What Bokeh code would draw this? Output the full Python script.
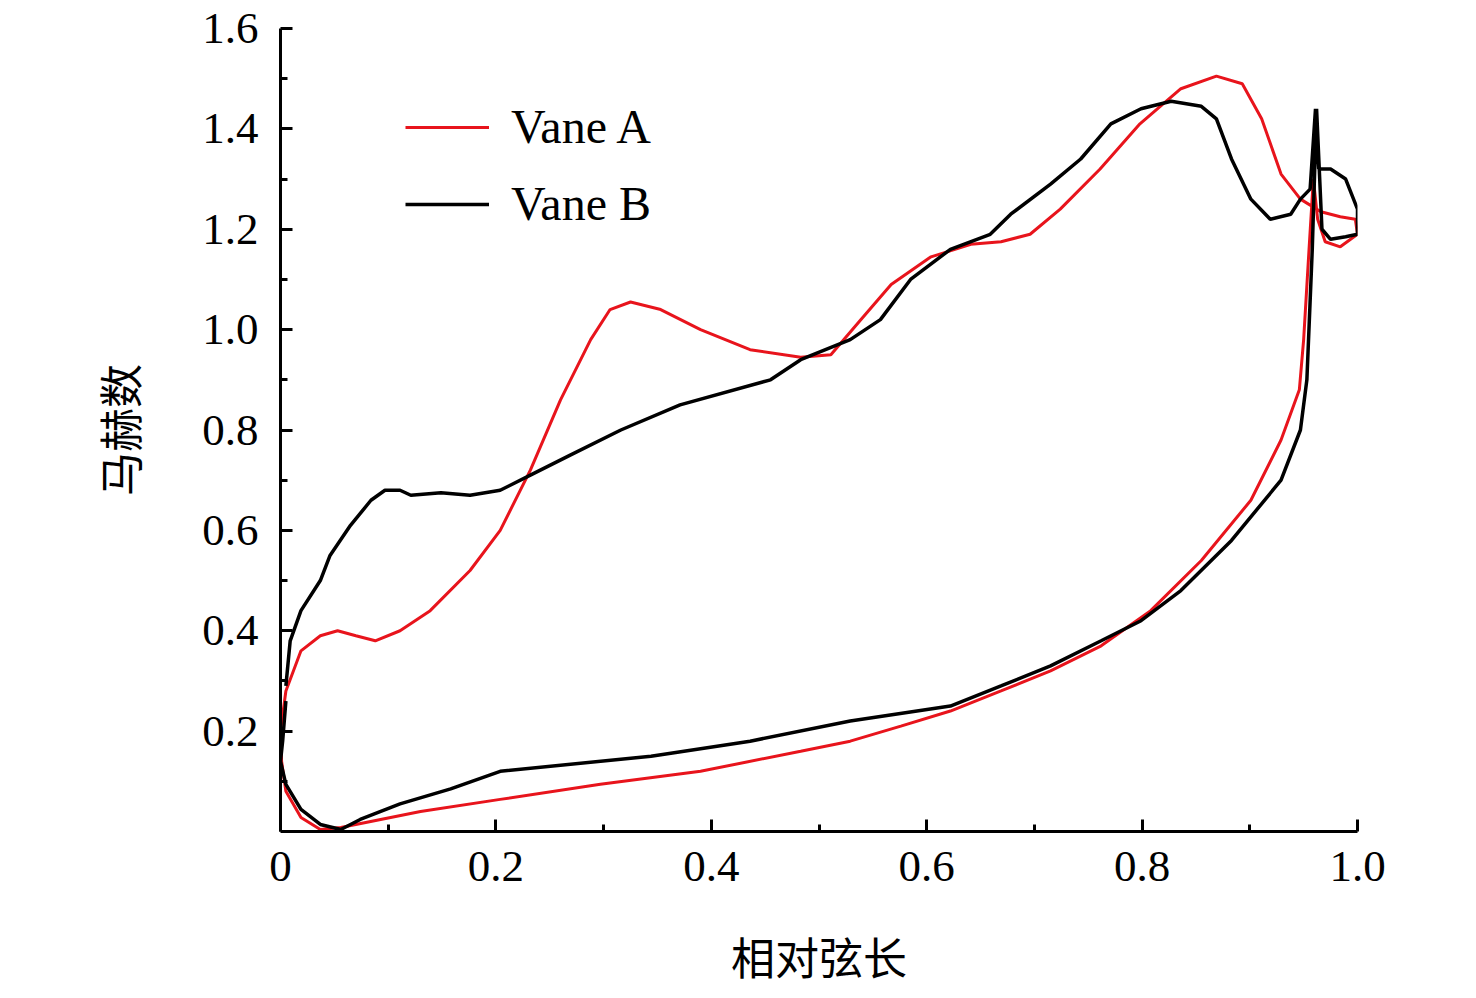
from bokeh.plotting import figure
from bokeh.models import FixedTicker, Legend, LegendItem
from bokeh.embed import file_html
from bokeh.resources import INLINE

a_x = [0,0.005,0.019,0.037,0.053,0.070,0.088,0.111,0.139,0.176,0.204,0.232,0.260,0.288,0.306,0.325,0.353,0.390,0.436,0.483,0.511,0.539,0.567,0.604,0.641,0.669,0.696,0.724,0.761,0.798,0.836,0.869,0.893,0.911,0.929,0.947,0.966,0.984,0.998,1.0,0.984,0.970,0.963,0.959,0.955,0.950,0.946,0.929,0.901,0.855,0.808,0.762,0.715,0.669,0.622,0.576,0.529,0.483,0.390,0.297,0.204,0.130,0.093,0.056,0.037,0.019,0.005,0.001,0]
a_y = [0.2,0.28,0.36,0.39,0.40,0.39,0.38,0.40,0.44,0.52,0.60,0.72,0.86,0.98,1.04,1.055,1.04,1.0,0.96,0.945,0.95,1.02,1.09,1.145,1.17,1.175,1.19,1.24,1.32,1.41,1.48,1.505,1.49,1.42,1.31,1.26,1.235,1.225,1.22,1.19,1.165,1.175,1.22,1.30,1.16,0.98,0.88,0.78,0.66,0.54,0.44,0.37,0.32,0.28,0.24,0.21,0.18,0.16,0.12,0.094,0.064,0.04,0.024,0.008,0.004,0.028,0.08,0.14,0.2]
b_x = [0.005,0.009,0.019,0.037,0.046,0.065,0.084,0.097,0.111,0.121,0.149,0.176,0.204,0.232,0.269,0.316,0.371,0.455,0.483,0.529,0.557,0.585,0.622,0.659,0.678,0.715,0.743,0.771,0.799,0.827,0.855,0.869,0.883,0.901,0.919,0.938,0.947,0.956,0.961,0.964,0.975,0.989,1.0,1.0,0.989,0.975,0.967,0.962,0.958,0.953,0.947,0.929,0.883,0.836,0.799,0.762,0.715,0.669,0.622,0.529,0.436,0.344,0.204,0.158,0.111,0.074,0.056,0.037,0.019,0.005,0,0.002,0.005]
b_y = [0.29,0.38,0.44,0.50,0.55,0.61,0.66,0.68,0.68,0.67,0.675,0.67,0.68,0.71,0.75,0.80,0.85,0.90,0.94,0.98,1.02,1.10,1.16,1.19,1.23,1.29,1.34,1.41,1.44,1.455,1.445,1.42,1.34,1.26,1.22,1.23,1.26,1.28,1.44,1.32,1.32,1.30,1.24,1.19,1.185,1.18,1.20,1.44,1.16,0.90,0.80,0.70,0.58,0.48,0.42,0.38,0.33,0.29,0.25,0.22,0.18,0.15,0.12,0.085,0.055,0.024,0.004,0.014,0.044,0.094,0.14,0.18,0.26]
x_ticks = [0,0.2,0.4,0.6,0.8,1.0]
x_labels = ["0","0.2","0.4","0.6","0.8","1.0"]
y_ticks = [0.2,0.4,0.6,0.8,1.0,1.2,1.4,1.6]

p = figure(width=1468, height=990, output_backend="svg", toolbar_location=None,
           x_range=(0,1.0), y_range=(0,1.6), min_border_left=280, min_border_right=111,
           min_border_top=28, min_border_bottom=158)
p.grid.visible = False
p.outline_line_color = None
p.background_fill_color = "white"
ra = p.line(a_x, a_y, line_color="#e8141c", line_width=3)
rb = p.line(b_x, b_y, line_color="black", line_width=3.5)

p.xaxis.ticker = FixedTicker(ticks=x_ticks, minor_ticks=[0.1,0.3,0.5,0.7,0.9])
p.xaxis.major_label_overrides = {t: l for t, l in zip(x_ticks, x_labels)}
p.yaxis.ticker = FixedTicker(ticks=y_ticks, minor_ticks=[0.1,0.3,0.5,0.7,0.9,1.1,1.3,1.5])
p.yaxis.major_label_overrides = {t: "%.1f" % t for t in y_ticks}
for ax in (p.xaxis, p.yaxis):
    ax.axis_line_width = 3
    ax.major_tick_line_width = 3
    ax.minor_tick_line_width = 3
    ax.major_tick_in = 12
    ax.major_tick_out = 0
    ax.minor_tick_in = 7
    ax.minor_tick_out = 0
    ax.major_label_text_font = "Liberation Serif"
    ax.major_label_text_font_size = "45px"
    ax.major_label_text_color = "black"
    ax.axis_label_text_font = "Noto Sans CJK SC"
    ax.axis_label_text_font_size = "44px"
    ax.axis_label_text_font_style = "normal"
    ax.axis_label_text_color = "black"
p.xaxis.axis_label = "相对弦长"
p.yaxis.axis_label = "马赫数"
p.xaxis.major_label_standoff = 20
p.yaxis.major_label_standoff = 22
p.xaxis.axis_label_standoff = 40
p.yaxis.axis_label_standoff = 48

leg = Legend(items=[LegendItem(label="Vane A", renderers=[ra]), LegendItem(label="Vane B", renderers=[rb])],
             location=(125, 600), label_text_font="Liberation Serif", label_text_font_size="48px",
             label_text_color="black",
             glyph_width=84, glyph_height=50, spacing=22, label_standoff=22,
             border_line_color=None, background_fill_alpha=0)
p.add_layout(leg)

open("out.html", "w").write(file_html(p, INLINE))
